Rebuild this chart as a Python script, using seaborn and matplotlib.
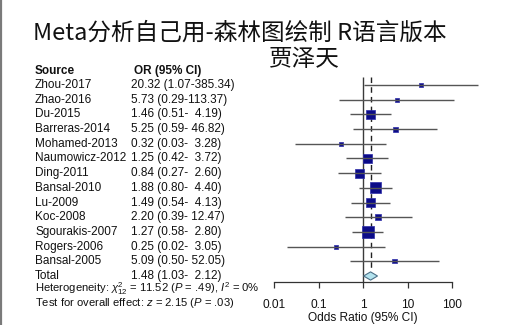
import numpy as np
import pandas as pd
import matplotlib
matplotlib.use("Agg")
import matplotlib.pyplot as plt
import matplotlib.transforms as mtransforms
from matplotlib.lines import Line2D
from matplotlib.patches import Polygon
import seaborn as sns

# Study-level results
sources = ["Zhou-2017", "Zhao-2016", "Du-2015", "Barreras-2014", "Mohamed-2013",
           "Naumowicz-2012", "Ding-2011", "Bansal-2010", "Lu-2009", "Koc-2008",
           "Sgourakis-2007", "Rogers-2006", "Bansal-2005"]
odds_ratio = [20.32, 5.73, 1.46, 5.25, 0.32, 1.25, 0.84, 1.88, 1.49, 2.20, 1.27, 0.25, 5.09]
ci_low = [1.07, 0.29, 0.51, 0.59, 0.03, 0.42, 0.27, 0.80, 0.54, 0.39, 0.58, 0.02, 0.50]
ci_high = [385.34, 113.37, 4.19, 46.82, 3.28, 3.72, 2.60, 4.40, 4.13, 12.47, 2.80, 3.05, 52.05]
weights = [2.2, 2.2, 11.0, 3.4, 2.4, 11.0, 11.0, 16.4, 11.0, 4.9, 19.6, 2.4, 2.4]

# Pooled estimate
total_or, total_low, total_high = 1.48, 1.03, 2.12

tick_values = [0.01, 0.1, 1, 10, 100]
tick_labels = ["0.01", "0.1", "1", "10", "100"]

sns.set_theme(style="white")
plt.rcParams["font.family"] = ["Liberation Sans", "Noto Sans CJK SC", "DejaVu Sans"]
plt.rcParams["mathtext.fontset"] = "custom"
plt.rcParams["mathtext.rm"] = "Liberation Sans"
plt.rcParams["mathtext.it"] = "Liberation Sans:italic"
plt.rcParams["mathtext.bf"] = "Liberation Sans:bold"

W, H = 520, 325
fig = plt.figure(figsize=(W / 100, H / 100), dpi=100)
fig.patch.set_facecolor("white")

# Forest panel placed in pixel terms
left_px, right_px, top_px, bottom_px = 274, 452, 75, 282
ax = fig.add_axes([left_px / W, 1 - bottom_px / H,
                   (right_px - left_px) / W, (bottom_px - top_px) / H])
ax.set_facecolor("none")

row_first_px, row_total_px = 85, 276
n = len(sources)
step = (row_total_px - row_first_px) / n
y_top = -(row_first_px - top_px) / step
y_bottom = n + (bottom_px - row_total_px) / step

df = pd.DataFrame({"source": sources, "or": odds_ratio, "lo": ci_low,
                   "hi": ci_high, "w": weights, "row": np.arange(n)})

ax.set_xscale("log")
ax.set_xlim(0.01, 100)
ax.set_ylim(y_bottom, y_top)

# Reference lines: no effect (solid) and pooled estimate (dashed)
ax.vlines(1, -0.54, y_bottom, color="#3a3a3a", lw=1.0, zorder=1, clip_on=False)
ax.vlines(total_or, -0.54, n - 0.35, color="#222222", lw=1.0,
          linestyles=(0, (4, 3)), zorder=1, clip_on=False)

# Squares sized by study weight
k_px = 2.71
px_to_pt = 72 / 100
side_min = k_px * np.sqrt(min(weights)) * px_to_pt
side_max = k_px * np.sqrt(max(weights)) * px_to_pt
sns.scatterplot(data=df, x="or", y="row", size="w",
                sizes=(side_min ** 2, side_max ** 2),
                size_norm=(min(weights), max(weights)),
                marker="s", color="#0b0b88", edgecolor="#2d2da8", linewidth=0.5,
                legend=False, ax=ax, zorder=3, clip_on=False)

# Confidence intervals
ax.hlines(df["row"], df["lo"], df["hi"], color="#555555", lw=1.0,
          zorder=4, clip_on=False)

# Pooled diamond
half_h = 0.28
diamond = Polygon([[total_low, n], [total_or, n - half_h],
                   [total_high, n], [total_or, n + half_h]],
                  closed=True, facecolor="#b3e3ee", edgecolor="#4b6f86",
                  lw=0.8, zorder=3)
ax.add_patch(diamond)

# Axis styling
for side in ["top", "left", "right"]:
    ax.spines[side].set_visible(False)
ax.spines["bottom"].set_color("#333333")
ax.spines["bottom"].set_linewidth(0.9)
ax.set_xticks(tick_values)
ax.set_xticklabels(tick_labels)
ax.xaxis.set_minor_locator(matplotlib.ticker.NullLocator())
ax.tick_params(axis="x", which="major", direction="out", length=4, width=0.9,
               color="#333333", pad=8.5, labelsize=8.6, labelcolor="#111111",
               bottom=True)
ax.set_yticks([])
ax.set_xlabel("Odds Ratio (95% CI)", fontsize=8.6, labelpad=0.5, color="#111111")
ax.set_ylabel("")

# Table text beside the plot
trans = mtransforms.blended_transform_factory(fig.transFigure, ax.transData)
src_x, or_x = 35 / W, 131 / W
header_y = -(row_first_px - 71) / step
fs = 8.5
ax.text(src_x, header_y, "Source", transform=trans, ha="left", va="center",
        fontsize=fs, fontweight="bold", color="#111111", clip_on=False)
ax.text(134 / W, header_y, "OR (95% CI)", transform=trans, ha="left", va="center",
        fontsize=fs, fontweight="bold", color="#111111", clip_on=False)

for i, (s, o, lo, hi) in enumerate(zip(sources, odds_ratio, ci_low, ci_high)):
    ax.text(src_x, i, s, transform=trans, ha="left", va="center",
            fontsize=fs, color="#111111", clip_on=False)
    ax.text(or_x, i, f"{o:.2f} ({lo:.2f}-{hi:6.2f})", transform=trans,
            ha="left", va="center", fontsize=fs, color="#111111", clip_on=False)

ax.text(src_x, n, "Total", transform=trans, ha="left", va="center",
        fontsize=fs, color="#111111", clip_on=False)
ax.text(or_x, n, f"{total_or:.2f} ({total_low:.2f}-{total_high:6.2f})",
        transform=trans, ha="left", va="center", fontsize=fs, color="#111111",
        clip_on=False)
ax.text(src_x, (289 - row_first_px) / step,
        r"Heterogeneity: $\chi^2_{12}$ = 11.52 ($P$ = .49), $I^2$ = 0%",
        transform=trans, ha="left", va="center", fontsize=8.1, color="#111111",
        clip_on=False)
ax.text(src_x, (302.5 - row_first_px) / step,
        r"Test for overall effect: $z$ = 2.15 ($P$ = .03)",
        transform=trans, ha="left", va="center", fontsize=8.1, color="#111111",
        clip_on=False)

# Titles
fig.text(240 / W, 1 - 33 / H, "Meta分析自己用-森林图绘制 R语言版本",
         ha="center", va="center", fontsize=17,
         family=["Noto Sans CJK SC", "DejaVu Sans"], fontweight="normal",
         color="#111111")
fig.text(304 / W, 1 - 59 / H, "贾泽天", ha="center", va="center", fontsize=17,
         family=["Noto Sans CJK SC", "DejaVu Sans"], fontweight="normal",
         color="#111111")

# Frame edge on the left
fig.add_artist(Line2D([1 / W, 1 / W], [0, 1], transform=fig.transFigure,
                      color="#7a7a7a", lw=1.6))

fig.savefig("out.png", dpi=100, facecolor="white")
